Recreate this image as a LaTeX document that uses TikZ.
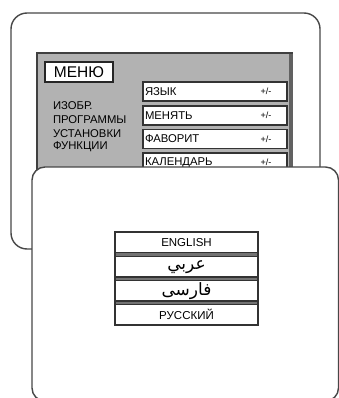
\documentclass[tikz,border=0pt]{standalone}
\usepackage{fontspec}
\setmainfont{Liberation Sans}
\newfontfamily\arabicfont[Script=Arabic]{DejaVu Sans}
\TeXXeTstate=1
\begin{document}
\begin{tikzpicture}[x=1pt,y=-1pt,
  every node/.style={inner sep=0pt, outer sep=0pt},
  panel/.style={draw=black!72, line width=1.4pt, fill=white, anchor=north west},
  menubg/.style={draw=black!75, line width=1.3pt, fill=black!30, anchor=north west},
  itembox/.style={draw=black!80, line width=1.6pt, fill=white, anchor=north west, minimum width=144pt, minimum height=19pt},
  langrow/.style={draw=black!80, line width=1.4pt, fill=white, anchor=north west, minimum width=143pt, minimum height=20.5pt},
  itemtxt/.style={anchor=west, font=\fontsize{11.3}{12}\selectfont},
  pmtxt/.style={font=\fontsize{9}{10}\selectfont},
  lbl/.style={anchor=west, font=\fontsize{11.3}{12}\selectfont},
  langtxt/.style={font=\fontsize{11.5}{12}\selectfont},
  arabtxt/.style={font=\arabicfont\fontsize{17}{18}\selectfont}]
\useasboundingbox (0,0) rectangle (339,398);
% back screen
\node[panel, rounded corners=16pt, minimum width=309pt, minimum height=236pt] (back) at (11,13) {};
% grey menu
\node[menubg, minimum width=255pt, minimum height=130pt] (menubg) at (37,53) {};
\draw[line width=3.5pt, black!62] ([xshift=-1.2pt,yshift=-0.6pt]menubg.north east) -- ([xshift=-1.2pt]menubg.south east);
% MENU box
\node[draw=black!85, line width=1.8pt, fill=white, anchor=north west, minimum width=68pt, minimum height=20pt,
  font=\fontsize{15.5}{16}\selectfont] (menu) at (45,62) {МЕНЮ};
% left labels
\node[lbl] (l1) at (53,106) {ИЗОБР.};
\node[lbl] (l2) at (53,120) {ПРОГРАММЫ};
\node[lbl] (l3) at (53,134) {УСТАНОВКИ};
\node[lbl] (l4) at (53,147) {ФУНКЦИИ};
% items
\node[itembox] (i1) at (143,82) {};
\node[itembox] (i2) at (143,106) {};
\node[itembox] (i3) at (143,129.5) {};
\node[itembox] (i4) at (143,153) {};
\node[itemtxt] (t1) at ([xshift=2pt]i1.west) {ЯЗЫК};
\node[itemtxt] (t2) at ([xshift=2pt]i2.west) {МЕНЯТЬ};
\node[itemtxt] (t3) at ([xshift=2pt]i3.west) {ФАВОРИТ};
\node[itemtxt] (t4) at ([xshift=2pt]i4.west) {КАЛЕНДАРЬ};
\node[pmtxt] (p1) at (i1.center -| 266,0) {+/-};
\node[pmtxt] (p2) at (i2.center -| 266,0) {+/-};
\node[pmtxt] (p3) at (i3.center -| 266,0) {+/-};
\node[pmtxt] (p4) at (i4.center -| 266,0) {+/-};
% front screen
\node[panel, rounded corners=13pt, minimum width=306.5pt, minimum height=234pt] (front) at (32,167) {};
% language list
\node[draw=black!80, line width=1.4pt, fill=black!55, anchor=north west, minimum width=143pt, minimum height=93pt] (lang) at (115,232) {};
\node[langrow] (r1) at (115,232) {};
\node[langrow] (r2) at (115,256.5) {};
\node[langrow] (r3) at (115,280.5) {};
\node[langrow] (r4) at (115,304.5) {};
\node[langtxt] (e1) at (r1.center) {ENGLISH};
\node[arabtxt] (e2) at (r2.center) {\beginR عربي\endR};
\node[arabtxt] (e3) at (r3.center) {\beginR فارسی\endR};
\node[langtxt] (e4) at (r4.center) {РУССКИЙ};
\end{tikzpicture}
\end{document}
